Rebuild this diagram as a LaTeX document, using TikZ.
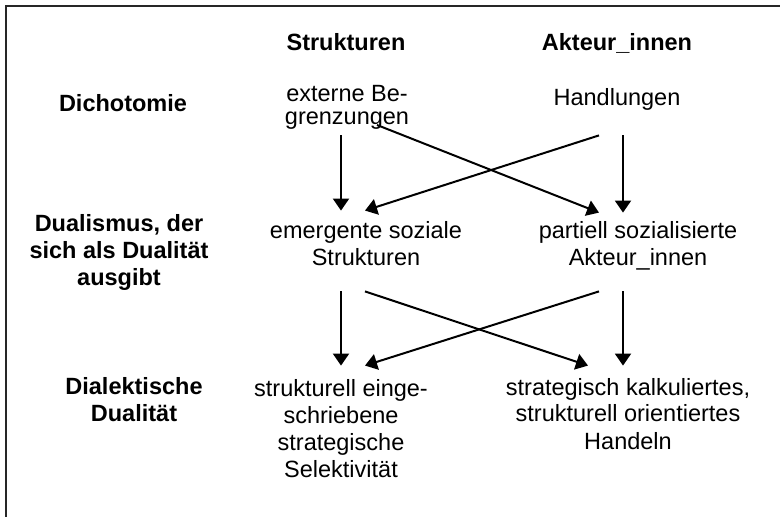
\documentclass[tikz,border=0pt]{standalone}
\usepackage{fontspec}
\setmainfont{Liberation Sans}
\usetikzlibrary{arrows.meta}

\tikzset{
  kopf/.style={font=\bfseries\fontsize{11.75}{13.5}\selectfont, align=center, anchor=base, inner sep=0pt},
  inhalt/.style={font=\fontsize{11.75}{13.5}\selectfont, align=center, anchor=base, inner sep=0pt},
  pfeil/.style={line width=1pt, -{Triangle[length=6pt,width=8pt]}}
}

\begin{document}
\begin{tikzpicture}[x=0.5pt, y=-0.5pt]
  \useasboundingbox (0,0) rectangle (780,517);
  % Rahmen (nur links und oben)
  \draw[line width=1pt, black!85] (6,517) -- (6,6.5) -- (780,6.5);

  % Spaltenkoepfe
  \node[kopf] (kStr) at (346,51) {Strukturen};
  \node[kopf] (kAkt) at (617,51) {Akteur\_innen};

  % Zeilenkoepfe (base = letzte Zeile)
  \node[kopf] (zDich) at (123,112) {Dichotomie};
  \node[kopf] (zDual) at (119,286) {Dualismus, der\\sich als Dualität\\ausgibt};
  \node[kopf] (zDial) at (134,422) {Dialektische\\Dualität};

  % Zeile 1
  \node[inhalt, font=\fontsize{11.75}{11.75}\selectfont, text depth=5pt] (ext) at (347,125) {externe Be-\\grenzungen};
  \node[inhalt, text depth=14.5pt] (hdl) at (617,106) {Handlungen};

  % Zeile 2
  \node[inhalt, text height=27.5pt, text depth=12.5pt] (emg) at (366,266) {emergente soziale\\Strukturen};
  \node[inhalt, text height=26.5pt, text depth=12.5pt] (par) at (638,266) {partiell sozialisierte\\Akteur\_innen};

  % Zeile 3
  \node[inhalt, text height=55.5pt] (sel) at (341,477) {strukturell einge-\\schriebene\\strategische\\Selektivität};
  \node[inhalt, text height=41.5pt] (han) at (628,449) {strategisch kalkuliertes,\\strukturell orientiertes\\Handeln};

  % Spalten fuer die Pfeile
  \coordinate (lv) at (341,0);
  \coordinate (rv) at (623,0);
  \coordinate (ls) at (377,0);
  \coordinate (ld) at (365,0);
  \coordinate (rd) at (599,0);
  \coordinate (rh) at (588,0);

  % Pfeile Zeile 1 -> Zeile 2
  \draw[pfeil] (ext.south -| lv) -- (emg.north -| lv);
  \draw[pfeil] (ext.base -| ls) -- (par.north -| rd);
  \draw[pfeil] (hdl.south -| rd) -- (emg.north -| ld);
  \draw[pfeil] (hdl.south -| rv) -- (par.north -| rv);

  % Pfeile Zeile 2 -> Zeile 3
  \draw[pfeil] (emg.south -| lv) -- (sel.north -| lv);
  \draw[pfeil] (emg.south -| ld) -- (han.north -| rh);
  \draw[pfeil] (par.south -| rd) -- (sel.north -| ld);
  \draw[pfeil] (par.south -| rv) -- (han.north -| rv);
\end{tikzpicture}
\end{document}
